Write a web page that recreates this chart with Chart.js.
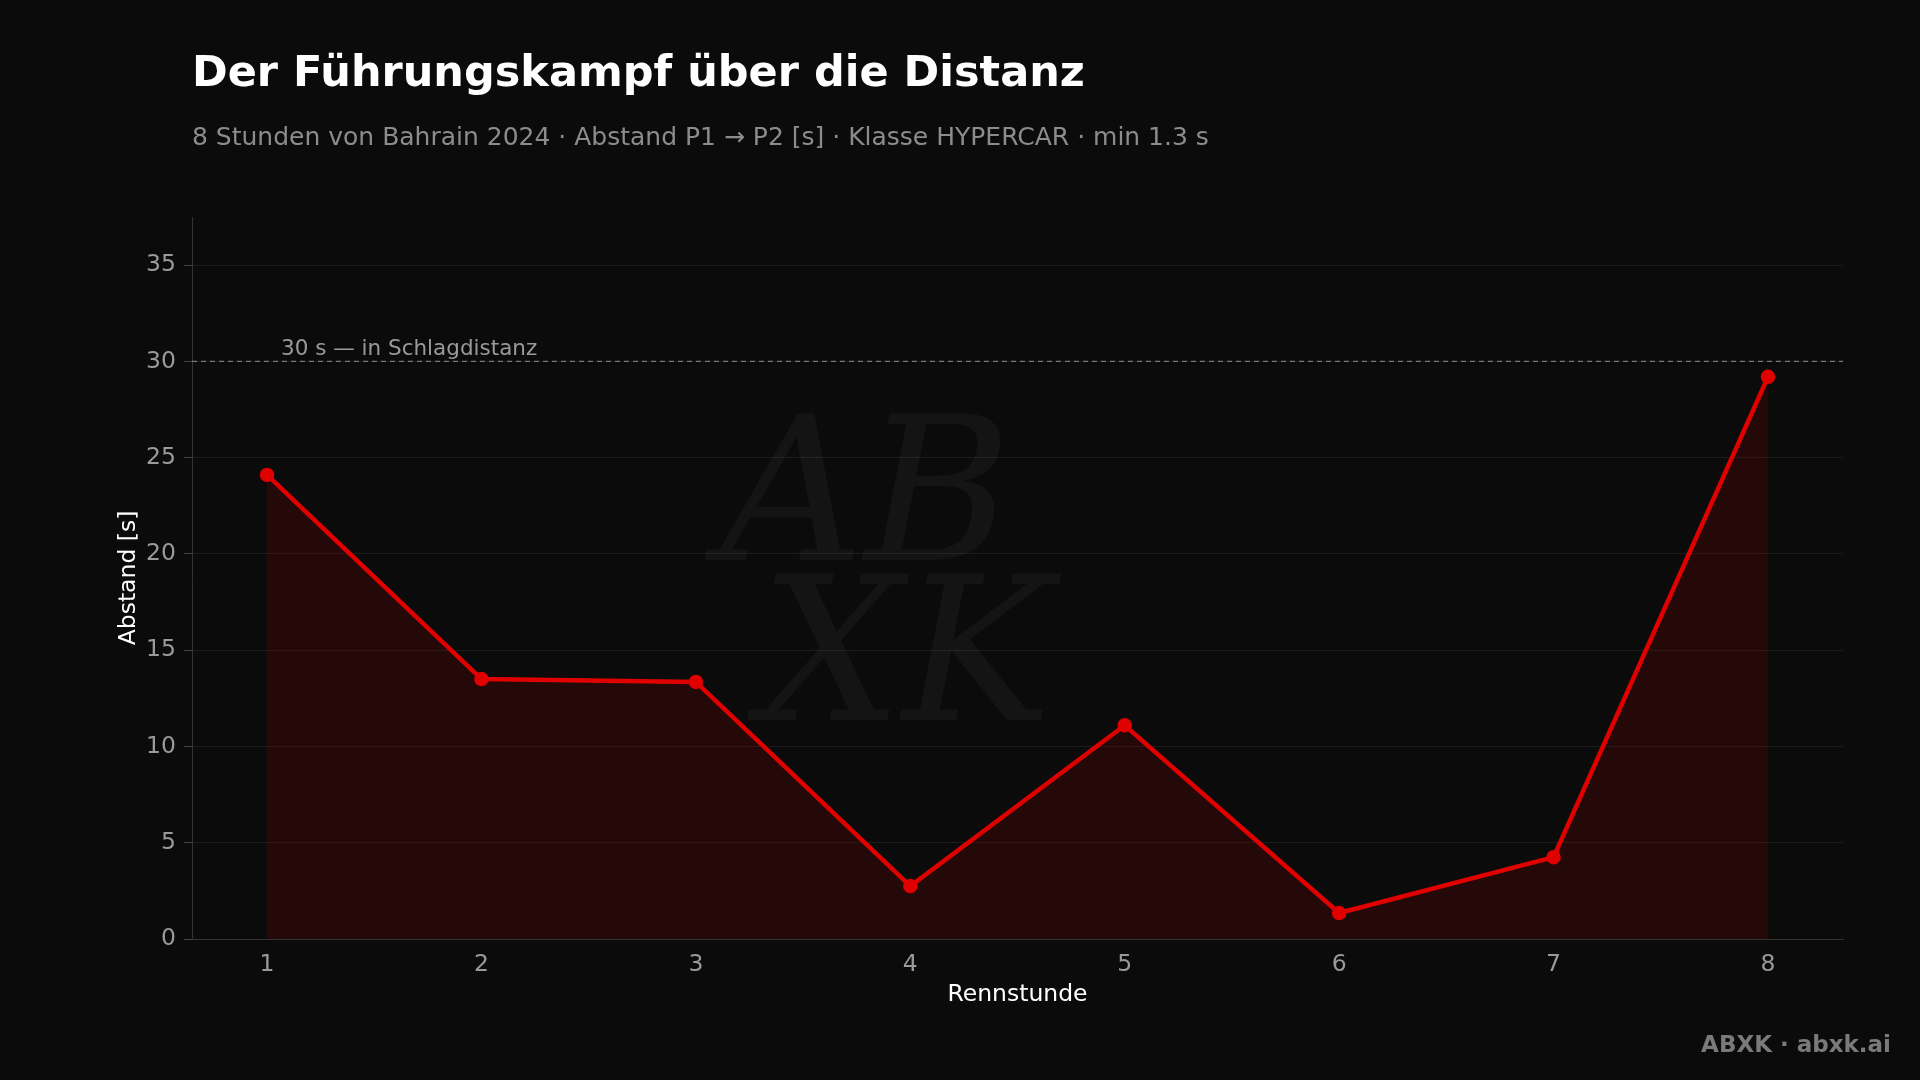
<!DOCTYPE html>
<html><head><meta charset="utf-8">
<script src="https://cdn.jsdelivr.net/npm/chart.js@4"></script>
<style>html,body{margin:0;padding:0;background:#0b0b0b;}canvas{display:block}</style>
</head><body>
<div style="width:1920px;height:1080px;position:relative"><canvas id="c" width="1920" height="1080"></canvas></div>
<script>
const hours = [1,2,3,4,5,6,7,8];
const gaps = [24.1,13.5,13.35,2.75,11.1,1.35,4.25,29.2];
const yTicks = [0,5,10,15,20,25,30,35];
const threshold = 30;
const titleText = "Der Führungskampf über die Distanz";
const subtitleText = "8 Stunden von Bahrain 2024 · Abstand P1 → P2 [s] · Klasse HYPERCAR · min 1.3 s";
const F = "'DejaVu Sans', sans-serif";

const deco = {
  id:'deco',
  beforeDraw(ch){
    const c=ch.ctx; c.save();
    c.fillStyle='#0b0b0b'; c.fillRect(0,0,ch.width,ch.height);
    c.fillStyle='rgba(255,255,255,0.04)';
    c.font="italic 200px 'DejaVu Serif', serif";
    c.fillText('AB',720,560);
    c.fillText('XK',760,720);
    c.restore();
  },
  afterDatasetsDraw(ch){
    const c=ch.ctx, a=ch.chartArea, y=ch.scales.y.getPixelForValue(threshold);
    c.save();
    c.strokeStyle='rgba(200,200,200,0.55)'; c.lineWidth=1.2; c.setLineDash([5,4]);
    c.beginPath(); c.moveTo(a.left,y); c.lineTo(a.right,y); c.stroke();
    c.setLineDash([]);
    c.fillStyle='#9a9a9a'; c.font="21.5px "+F; c.textBaseline='bottom';
    c.fillText('30 s — in Schlagdistanz',281,y-1);
    c.restore();
  },
  afterDraw(ch){
    const c=ch.ctx; c.save();
    c.textBaseline='alphabetic';
    c.fillStyle='#ffffff'; c.font="bold 43px "+F; c.fillText(titleText,192,86);
    c.fillStyle='#8c8c8c'; c.font="25px "+F; c.fillText(subtitleText,192,145);
    c.fillStyle='#7a7a7a'; c.font="bold 23px "+F; c.textAlign='right';
    c.fillText('ABXK · abxk.ai',1891,1052);
    c.restore();
  }
};

new Chart(document.getElementById('c'),{
  type:'line',
  data:{datasets:[{
    data:hours.map((h,i)=>({x:h,y:gaps[i]})),
    borderColor:'#e00000', borderWidth:4.5,
    backgroundColor:'rgba(190,0,0,0.15)', fill:'origin',
    pointRadius:5, pointBackgroundColor:'#e00000', pointBorderColor:'#e00000',
    tension:0
  }]},
  plugins:[deco],
  options:{
    responsive:false, animation:false, devicePixelRatio:1,
    layout:{padding:{left:111,top:217,right:77,bottom:67}},
    plugins:{legend:{display:false},tooltip:{enabled:false}},
    scales:{
      x:{type:'linear',min:0.65,max:8.35,
        afterBuildTicks(s){s.ticks=hours.map(v=>({value:v}));},
        afterFit(s){s.height=74;},
        ticks:{color:'#9a9a9a',font:{family:F,size:23.5},padding:4},
        grid:{display:false,drawTicks:true,tickColor:'#444'},
        border:{color:'#333'},
        title:{display:true,text:'Rennstunde',color:'#ffffff',font:{family:F,size:23.5},padding:{top:4}}
      },
      y:{min:0,max:37.5,
        afterBuildTicks(s){s.ticks=yTicks.map(v=>({value:v}));},
        afterFit(s){s.width=81;},
        ticks:{color:'#9a9a9a',font:{family:F,size:23.5},padding:8},
        grid:{color:'rgba(255,255,255,0.07)',tickColor:'#444',tickLength:8},
        border:{color:'#333'},
        title:{display:true,text:'Abstand [s]',color:'#ffffff',font:{family:F,size:23.5},padding:{bottom:4}}
      }
    }
  }
});
</script>
</body></html>
